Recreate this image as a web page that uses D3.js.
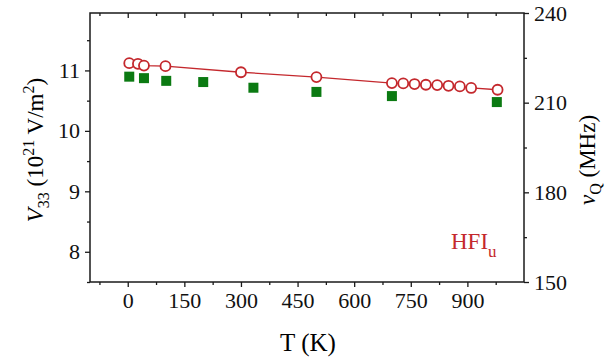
<!DOCTYPE html>
<html>
<head>
<meta charset="utf-8">
<script src="https://cdn.jsdelivr.net/npm/d3@7"></script>
<style>
  body { margin: 0; background: #fff; }
</style>
</head>
<body>
<svg id="chart" width="613" height="364"></svg>
<script>
// temperatures (K) and values
var circleT = [4, 27, 43, 100, 300, 500, 700, 730, 760, 790, 820, 850, 880, 910, 980];
var circleV = [11.12, 11.11, 11.08, 11.07, 10.97, 10.89, 10.79, 10.785, 10.775, 10.763, 10.758, 10.746, 10.735, 10.71, 10.68];
var squareT = [4, 43, 102, 200, 333, 500, 700, 978];
var squareNu = [218.7, 218.2, 217.3, 216.9, 215.0, 213.6, 212.2, 210.2];
var xTicks = [0, 150, 300, 450, 600, 750, 900];
var leftTicks = [8, 9, 10, 11];
var rightTicks = [150, 180, 210, 240];

var red = "#c4282d", green = "#0b7a12", axisCol = "#1a1a1a";
var serif = "Liberation Serif";
var pLeft = 90, pRight = 524, pTop = 13, pBottom = 282;

var svg = d3.select("#chart");

var x = d3.scaleLinear().domain([-100, 1050]).range([pLeft, pRight]);
var yL = d3.scaleLinear().domain([7.5, 11.95]).range([pBottom, pTop]);
var yR = d3.scaleLinear().domain([150, 240]).range([pBottom, pTop]);

// minor ticks
var xMinor = d3.range(-75, 1050, 150);
var lMinor = d3.range(7.5, 12, 1);
var rMinor = [165, 195, 225];

function styleAxis(g) {
  g.select(".domain").remove();
  g.selectAll("line").attr("stroke", axisCol).attr("stroke-width", 1.3);
  g.selectAll("text").attr("font-family", serif).attr("font-size", 22).attr("fill", "#111");
}

// bottom axis
svg.append("g").attr("transform", "translate(0," + pBottom + ")")
  .call(d3.axisBottom(x).tickValues(xTicks).tickSize(5).tickPadding(5).tickFormat(d3.format("d")))
  .call(styleAxis);
svg.append("g").attr("transform", "translate(0," + pBottom + ")")
  .call(d3.axisBottom(x).tickValues(xMinor).tickSize(3).tickFormat(""))
  .call(styleAxis);
// top ticks (inward)
svg.append("g").attr("transform", "translate(0," + pTop + ")")
  .call(d3.axisBottom(x).tickValues(xTicks).tickSize(5).tickFormat(""))
  .call(styleAxis);
svg.append("g").attr("transform", "translate(0," + pTop + ")")
  .call(d3.axisBottom(x).tickValues(xMinor).tickSize(3).tickFormat(""))
  .call(styleAxis);

// left axis
svg.append("g").attr("transform", "translate(" + pLeft + ",0)")
  .call(d3.axisLeft(yL).tickValues(leftTicks).tickSize(5).tickPadding(5).tickFormat(d3.format("d")))
  .call(styleAxis);
svg.append("g").attr("transform", "translate(" + pLeft + ",0)")
  .call(d3.axisLeft(yL).tickValues(lMinor).tickSize(3).tickFormat(""))
  .call(styleAxis);

// right axis
svg.append("g").attr("transform", "translate(" + pRight + ",0)")
  .call(d3.axisRight(yR).tickValues(rightTicks).tickSize(5).tickPadding(5).tickFormat(d3.format("d")))
  .call(styleAxis);
svg.append("g").attr("transform", "translate(" + pRight + ",0)")
  .call(d3.axisRight(yR).tickValues(rMinor).tickSize(3).tickFormat(""))
  .call(styleAxis);

// frame
svg.append("rect")
  .attr("x", pLeft).attr("y", pTop)
  .attr("width", pRight - pLeft).attr("height", pBottom - pTop)
  .attr("fill", "none").attr("stroke", axisCol).attr("stroke-width", 1.5);

// squares
svg.append("g").selectAll("rect")
  .data(squareT)
  .join("rect")
  .attr("x", function(d) { return x(d) - 5; })
  .attr("y", function(d, i) { return yR(squareNu[i]) - 5; })
  .attr("width", 10).attr("height", 10)
  .attr("fill", green);

// circles with line
var line = d3.line()
  .x(function(d) { return x(d); })
  .y(function(d, i) { return yL(circleV[i]); });
svg.append("path")
  .attr("d", line(circleT))
  .attr("fill", "none").attr("stroke", red).attr("stroke-width", 1.3);
svg.append("g").selectAll("circle")
  .data(circleT)
  .join("circle")
  .attr("cx", function(d) { return x(d); })
  .attr("cy", function(d, i) { return yL(circleV[i]); })
  .attr("r", 5)
  .attr("fill", "#fff").attr("stroke", red).attr("stroke-width", 1.8);

// label
var lab = svg.append("text").attr("x", 451).attr("y", 249)
  .attr("font-family", serif).attr("font-size", 23).attr("fill", red);
lab.append("tspan").text("HFI");
lab.append("tspan").attr("dy", 8).attr("font-size", 17).text("u");

// axis titles
svg.append("text").attr("x", 308).attr("y", 351)
  .attr("font-family", serif)
  .attr("text-anchor", "middle").attr("font-size", 25).text("T (K)");

var lt = svg.append("text")
  .attr("transform", "translate(43,150) rotate(-90)")
  .attr("font-family", serif)
  .attr("text-anchor", "middle").attr("font-size", 23);
lt.append("tspan").attr("font-style", "italic").text("V");
lt.append("tspan").attr("font-size", 16).attr("dy", 6).text("33");
lt.append("tspan").attr("dy", -6).text(" (10");
lt.append("tspan").attr("font-size", 16).attr("dy", -9).text("21");
lt.append("tspan").attr("dy", 9).text(" V/m");
lt.append("tspan").attr("font-size", 16).attr("dy", -9).text("2");
lt.append("tspan").attr("dy", 9).text(")");

var rt = svg.append("text")
  .attr("transform", "translate(595,160) rotate(-90)")
  .attr("font-family", serif)
  .attr("text-anchor", "middle").attr("font-size", 23);
rt.append("tspan").attr("font-style", "italic").text("ν");
rt.append("tspan").attr("font-size", 16).attr("dy", 6).text("Q");
rt.append("tspan").attr("dy", -6).text(" (MHz)");
</script>
</body>
</html>
